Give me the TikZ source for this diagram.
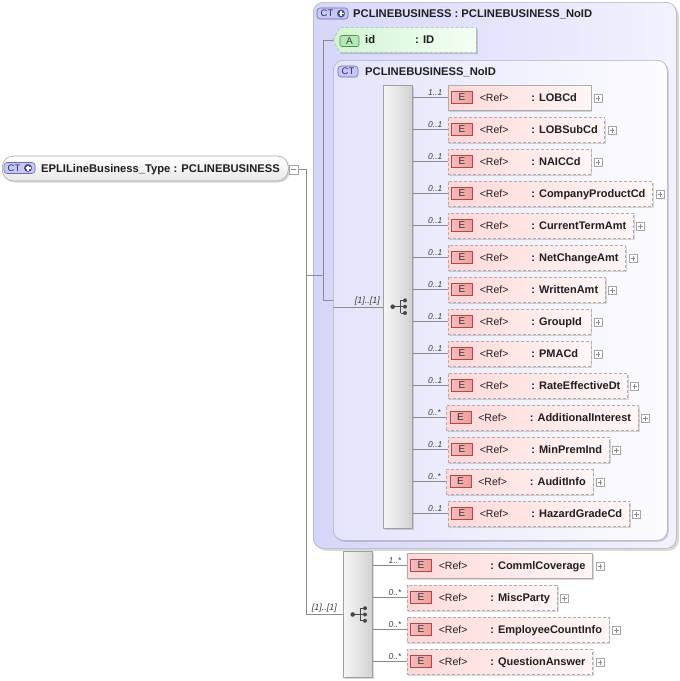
\documentclass[tikz,border=0pt]{standalone}
\usepackage{fontspec}
\setmainfont{Liberation Sans}
\usetikzlibrary{shadows,calc}
\definecolor{elemL}{HTML}{FFD9D9}
\definecolor{elemR}{HTML}{FFF6F6}
\definecolor{outerL}{HTML}{D6D6FA}
\definecolor{outerR}{HTML}{F2F2FF}
\definecolor{innerL}{HTML}{E4E4FC}
\definecolor{innerR}{HTML}{FCFCFF}
\definecolor{attrL}{HTML}{D2F5D2}
\definecolor{attrR}{HTML}{F4FFF4}
\definecolor{rootB}{HTML}{E8E8E8}
\definecolor{ctF}{HTML}{C8C8F5}
\definecolor{ctD}{HTML}{6A6AAE}
\definecolor{ctT}{HTML}{2A2A6A}
\definecolor{ctC}{HTML}{4C4C96}
\definecolor{ebL}{HTML}{F7BDBD}
\definecolor{ebR}{HTML}{EE9C9C}
\definecolor{ebD}{HTML}{B04848}
\definecolor{abF}{HTML}{B4EAB4}
\definecolor{abD}{HTML}{4E944E}
\definecolor{seqL}{HTML}{F6F6F6}
\definecolor{seqR}{HTML}{D2D2D2}
\definecolor{seqD}{HTML}{A0A0A0}

\newcommand\elemrow[7]{% #1 name, #2 seq, #3 left x, #4 y, #5 style, #6 mult, #7 label
  \node[#5] (#1) at (#3,#4) {\vbox{\offinterlineskip\hbox{\hskip143pt}\hbox{\hskip32pt\makebox[51.5pt][l]{\fontsize{10.5}{12}\selectfont <Ref>}\bfseries : #7\hskip7pt}}};
  \node[ebadge] (#1-b) at ([xshift=14.5pt]#1.west) {E};
  \node[plusbox] (#1-x) at ([xshift=7pt,yshift=-1pt]#1.east) {};
  \draw[conn] (#2.east |- #1.west) -- (#1.west);
  \node[multlab] (#1-m) at ([xshift=-5pt,yshift=1.5pt]#1.west) {#6};
}
\newcommand\seqicon[3]{% name, x, y
  \begin{scope}[shift={(#2,#3)}, draw=black!72, fill=black!72, line width=0.8pt]
    \coordinate (#1) at (0,0);
    \draw (-4.8,0) -- (3,0) (3,-6.3) -- (3,6.3) (3,-6.3) -- (7.5,-6.3) (3,6.3) -- (7.5,6.3) (3,0) -- (7.5,0);
    \fill (-4.8,0) circle (2.3pt) (7.5,-6.3) circle (2pt) (7.5,0) circle (2pt) (7.5,6.3) circle (2pt);
  \end{scope}
}
\newcommand\ctplus[3]{% name, cx, cy
  \node[ctbadge, minimum width=31pt] (#1) at (#2,#3) {};
  \node[ctfont] (#1-t) at ([xshift=-5.5pt]#1.center) {CT};
  \fill[ctC] ([xshift=8.5pt]#1.center) circle (4pt);
  \draw[white, line width=1.1pt] ([xshift=6pt]#1.center) -- ([xshift=11pt]#1.center) ([xshift=8.5pt,yshift=2.5pt]#1.center) -- ([xshift=8.5pt,yshift=-2.5pt]#1.center);
}

\begin{document}
\begin{tikzpicture}[x=1pt,y=-1pt,
  conn/.style={draw=black!45, line width=0.6pt},
  shad/.style={drop shadow={shadow xshift=1.5pt,shadow yshift=-1.5pt,opacity=0.15,fill=black}},
  bigshad/.style={drop shadow={shadow xshift=2.5pt,shadow yshift=-2.5pt,opacity=0.15,fill=black}},
  elembox/.style={draw=black!32, line width=0.7pt, inner sep=0, minimum height=25pt, left color=elemL, right color=elemR, anchor=west, text height=7pt, text depth=0pt, shad, font=\fontsize{11}{13}\selectfont, text=black!88},
  req/.style={elembox},
  opt/.style={elembox, dash pattern=on 3pt off 2pt},
  ebadge/.style={draw=ebD, left color=ebL, right color=ebR, minimum width=21pt, minimum height=12pt, inner sep=0, font=\fontsize{10}{10}\selectfont, text=black!80, line width=0.6pt},
  plusbox/.style={draw=black!35, fill=white, minimum size=8pt, inner sep=0, line width=0.5pt,
    path picture={\draw[black!45, line width=0.5pt] ([xshift=1.8pt]path picture bounding box.west) -- ([xshift=-1.8pt]path picture bounding box.east) ([yshift=-1.8pt]path picture bounding box.north) -- ([yshift=1.8pt]path picture bounding box.south);}},
  minusbox/.style={draw=black!35, fill=white, minimum size=9.5pt, inner sep=0, line width=0.5pt,
    path picture={\draw[black!45, line width=0.6pt] ([xshift=2pt]path picture bounding box.west) -- ([xshift=-2pt]path picture bounding box.east);}},
  multlab/.style={anchor=south east, inner sep=0, font=\fontsize{8.5}{9}\selectfont\itshape, text=black!75},
  ctbadge/.style={draw=ctD, fill=ctF, rounded corners=3pt, minimum height=11pt, inner sep=0, line width=0.6pt},
  ctfont/.style={inner sep=0, font=\fontsize{9.5}{9.5}\selectfont, text=ctT},
  hdr/.style={anchor=base west, inner sep=0, font=\fontsize{11.2}{13}\selectfont\bfseries, text=black!88},
  seqbox/.style={draw=seqD, left color=seqL, right color=seqR, inner sep=0, anchor=north west, shad, line width=0.6pt},
]
\useasboundingbox (0,0) rectangle (680,681);

% root complex type
\node[draw=black!35, rounded corners=11pt, top color=white, bottom color=rootB, minimum width=286pt, minimum height=25pt, inner sep=0, anchor=west, shad, line width=0.6pt] (root) at (2,168.5) {};
\ctplus{rootb}{19.5}{168}
\node[hdr] (roott) at (41,172) {EPLILineBusiness\_Type : PCLINEBUSINESS};
\node[minusbox] (rootx) at (293.5,169.5) {};

% outer complex type
\node[draw=black!30, rounded corners=10pt, left color=outerL, right color=outerR, minimum width=363pt, minimum height=546pt, inner sep=0, anchor=north west, bigshad, line width=0.6pt] (outer) at (313,2) {};
\ctplus{outerb}{332.5}{13.5}
\node[hdr] (outert) at (353,17.5) {PCLINEBUSINESS : PCLINEBUSINESS\_NoID};

% attribute id
\node[inner sep=0, minimum width=143pt, minimum height=25pt, anchor=west] (attr) at (333,40) {};
\path[draw=black!32, dash pattern=on 3pt off 2pt, left color=attrL, right color=attrR, shad, line width=0.6pt] (attr.west) -- ([xshift=7pt]attr.north west) -- (attr.north east) -- (attr.south east) -- ([xshift=7pt]attr.south west) -- cycle;
\node[draw=abD, fill=abF, rounded corners=2pt, minimum width=19pt, minimum height=11pt, inner sep=0, font=\fontsize{10}{10}\selectfont, text=black!75, line width=0.6pt] (attrb) at (349.5,41) {A};
\node[hdr] (attrn) at (365,43.5) {id};
\node[hdr] (attrt) at (415,43.5) {: ID};

% inner complex type
\node[draw=black!30, rounded corners=10pt, left color=innerL, right color=innerR, minimum width=334pt, minimum height=480pt, inner sep=0, anchor=north west, shad, line width=0.6pt] (inner) at (333,60) {};
\node[ctbadge, minimum width=20pt] (innerb) at (348,71.5) {};
\node[ctfont] (innerbt) at (innerb.center) {CT};
\node[hdr] (innert) at (365,75) {PCLINEBUSINESS\_NoID};

% sequence 1
\node[seqbox, minimum width=29pt, minimum height=443pt] (s1) at (383,85) {};
\seqicon{s1i}{397.5}{306.7}

% sequence 2
\node[seqbox, minimum width=29pt, minimum height=126pt] (s2) at (343,551) {};
\seqicon{s2i}{357.5}{614.5}

% connectors of the tree
\coordinate (trunk) at (306,0);
\coordinate (hub) at (323,275);
\draw[conn] (rootx.east) -| (trunk |- s2.west) -- (s2.west);
\draw[conn] (hub -| trunk) -- (hub);
\draw[conn] (attr.west) -| (hub |- inner.west) -- (inner.west);
\draw[conn] (s1.west -| inner.west) -- (s1.west);
\node[multlab, font=\fontsize{9}{9}\selectfont\itshape] (s1m) at ([xshift=-3pt,yshift=1.5pt]s1.west) {[1]..[1]};
\node[multlab, font=\fontsize{9}{9}\selectfont\itshape] (s2m) at ([xshift=-6pt,yshift=1.5pt]s2.west) {[1]..[1]};

% elements of sequence 1
\elemrow{e1}{s1}{447.5}{97.5}{req}{1..1}{LOBCd}
\elemrow{e2}{s1}{447.5}{129.5}{opt}{0..1}{LOBSubCd}
\elemrow{e3}{s1}{447.5}{161.5}{opt}{0..1}{NAICCd}
\elemrow{e4}{s1}{447.5}{193.5}{opt}{0..1}{CompanyProductCd}
\elemrow{e5}{s1}{447.5}{225.5}{opt}{0..1}{CurrentTermAmt}
\elemrow{e6}{s1}{447.5}{257.5}{opt}{0..1}{NetChangeAmt}
\elemrow{e7}{s1}{447.5}{289.5}{opt}{0..1}{WrittenAmt}
\elemrow{e8}{s1}{447.5}{321.5}{opt}{0..1}{GroupId}
\elemrow{e9}{s1}{447.5}{353.5}{opt}{0..1}{PMACd}
\elemrow{e10}{s1}{447.5}{385.5}{opt}{0..1}{RateEffectiveDt}
\elemrow{e11}{s1}{446}{417.5}{opt}{0..*}{AdditionalInterest}
\elemrow{e12}{s1}{447.5}{449.5}{opt}{0..1}{MinPremInd}
\elemrow{e13}{s1}{446}{481.5}{opt}{0..*}{AuditInfo}
\elemrow{e14}{s1}{447.5}{513.5}{opt}{0..1}{HazardGradeCd}

% elements of sequence 2
\elemrow{f1}{s2}{406.5}{565.5}{req}{1..*}{CommlCoverage}
\elemrow{f2}{s2}{406.5}{597.5}{opt}{0..*}{MiscParty}
\elemrow{f3}{s2}{406.5}{629.5}{opt}{0..*}{EmployeeCountInfo}
\elemrow{f4}{s2}{406.5}{661.5}{opt}{0..*}{QuestionAnswer}
\end{tikzpicture}
\end{document}
